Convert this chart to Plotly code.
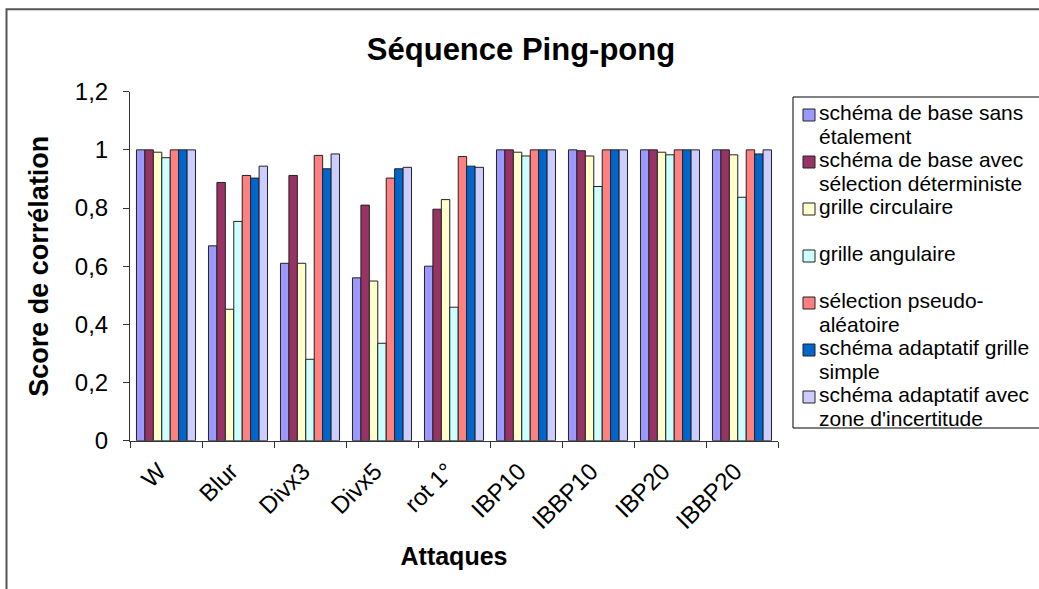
import plotly.graph_objects as go

# ---------------- data ----------------
categories = ["W", "Blur", "Divx3", "Divx5", "rot 1°", "IBP10", "IBBP10", "IBP20", "IBBP20"]

series_names = [
    "schéma de base sans étalement",
    "schéma de base avec sélection déterministe",
    "grille circulaire",
    "grille angulaire",
    "sélection pseudo-aléatoire",
    "schéma adaptatif grille simple",
    "schéma adaptatif avec zone d'incertitude",
]

legend_lines = [
    ["schéma de base sans", "étalement"],
    ["schéma de base avec", "sélection déterministe"],
    ["grille circulaire"],
    ["grille angulaire"],
    ["sélection pseudo-", "aléatoire"],
    ["schéma adaptatif grille", "simple"],
    ["schéma adaptatif avec", "zone d'incertitude"],
]

base_sans_etalement   = [1.00, 0.670, 0.610, 0.560, 0.600, 1.00, 1.00, 1.00, 1.00]
base_selection_determ = [1.00, 0.888, 0.912, 0.810, 0.796, 1.00, 0.997, 1.00, 1.00]
grille_circulaire     = [0.992, 0.452, 0.610, 0.549, 0.829, 0.992, 0.979, 0.992, 0.983]
grille_angulaire      = [0.973, 0.754, 0.280, 0.335, 0.459, 0.979, 0.874, 0.983, 0.837]
selection_pseudo_alea = [1.00, 0.912, 0.981, 0.903, 0.977, 1.00, 1.00, 1.00, 1.00]
adaptatif_grille      = [1.00, 0.903, 0.935, 0.935, 0.944, 1.00, 1.00, 1.00, 0.986]
adaptatif_incertitude = [1.00, 0.944, 0.986, 0.940, 0.940, 1.00, 1.00, 1.00, 1.00]

series_values = [base_sans_etalement, base_selection_determ, grille_circulaire,
                 grille_angulaire, selection_pseudo_alea, adaptatif_grille,
                 adaptatif_incertitude]

colors = ["#9999FF", "#993366", "#FFFFCC", "#CCFFFF", "#FF8080", "#0066CC", "#CCCCFF"]

y_tickvals = [0, 0.2, 0.4, 0.6, 0.8, 1.0, 1.2]
y_ticktext = ["0", "0,2", "0,4", "0,6", "0,8", "1", "1,2"]

# ---------------- layout helpers ----------------
W, H = 1039, 589
FONT = "Liberation Sans, Arial, sans-serif"


def fx(p):
    return p / W


def fy(p):
    return 1 - p / H


fig = go.Figure()

for name, vals, col in zip(series_names, series_values, colors):
    fig.add_trace(go.Bar(
        x=categories, y=vals, name=name,
        marker=dict(color=col, line=dict(color="#222222", width=1)),
        showlegend=False, xaxis="x", yaxis="y",
    ))

# ---------------- custom legend (clipped subplot) ----------------
LEG_L, LEG_T, LEG_B = 793, 97, 428
first_y, step, line_gap = 115, 47, 24
sq_x, txt_x = 809, 819
for i, (lines, col) in enumerate(zip(legend_lines, colors)):
    y0 = first_y + i * step
    fig.add_trace(go.Scatter(
        x=[sq_x], y=[y0], mode="markers",
        marker=dict(symbol="square", size=12, color=col, line=dict(color="#222222", width=1)),
        xaxis="x2", yaxis="y2", showlegend=False, hoverinfo="skip", cliponaxis=True,
    ))
    fig.add_trace(go.Scatter(
        x=[txt_x] * len(lines), y=[y0 + k * line_gap for k in range(len(lines))],
        mode="text", text=lines, textposition="middle right",
        textfont=dict(family=FONT, size=21, color="black"),
        xaxis="x2", yaxis="y2", showlegend=False, hoverinfo="skip", cliponaxis=True,
    ))

fig.update_layout(
    width=W, height=H,
    margin=dict(l=0, r=0, t=0, b=0, autoexpand=False),
    paper_bgcolor="white", plot_bgcolor="rgba(0,0,0,0)",
    barmode="group", bargap=0.18, bargroupgap=0,
    showlegend=False,
    font=dict(family=FONT, color="black"),
    title=dict(text="<b>Séquence Ping-pong</b>", x=fx(521), y=fy(49), xref="paper", yref="paper",
               xanchor="center", yanchor="middle", font=dict(size=31, family=FONT, color="black")),
    xaxis=dict(
        domain=[fx(130), fx(778)], anchor="y", type="category", automargin=False,
        showline=True, linecolor="#333333", linewidth=1,
        ticks="outside", tickson="boundaries", ticklen=6, tickcolor="#333333",
        tickangle=-45, tickfont=dict(size=24, family=FONT, color="black"),
        ticklabelstandoff=6, ticklabelshift=-7,
        showgrid=False,
        title=dict(text="<b>Attaques</b>", font=dict(size=25, family=FONT, color="black"), standoff=14),
    ),
    yaxis=dict(
        domain=[fy(440.7), fy(91.7)], anchor="x", range=[0, 1.2], automargin=False,
        tickvals=y_tickvals, ticktext=y_ticktext,
        showline=True, linecolor="#333333", linewidth=1,
        ticks="outside", ticklen=6, tickcolor="#333333",
        tickfont=dict(size=24, family=FONT, color="black"),
        ticklabelstandoff=10,
        showgrid=False, zeroline=False,
        title=dict(text="<b>Score de corrélation</b>", font=dict(size=27, family=FONT, color="black"), standoff=18),
    ),
    xaxis2=dict(domain=[fx(LEG_L), 1], range=[LEG_L, W], visible=False, anchor="y2",
                fixedrange=True, automargin=False),
    yaxis2=dict(domain=[fy(LEG_B), fy(LEG_T)], range=[LEG_B, LEG_T], visible=False, anchor="x2",
                fixedrange=True, automargin=False),
    shapes=[
        # legend frame
        dict(type="rect", xref="paper", yref="paper", x0=fx(LEG_L), x1=1.05, y0=fy(LEG_B), y1=fy(LEG_T),
             line=dict(color="black", width=1), fillcolor="rgba(0,0,0,0)", layer="above"),
        # outer chart frame
        dict(type="rect", xref="paper", yref="paper", x0=fx(6.5), x1=1.1, y0=-0.1, y1=fy(9.3),
             line=dict(color="#555555", width=2), fillcolor="rgba(0,0,0,0)", layer="below"),
    ],
)

fig.write_html("out.html", config={"displayModeBar": False},
               post_script="document.body.style.margin='0';document.body.style.overflow='hidden';")
